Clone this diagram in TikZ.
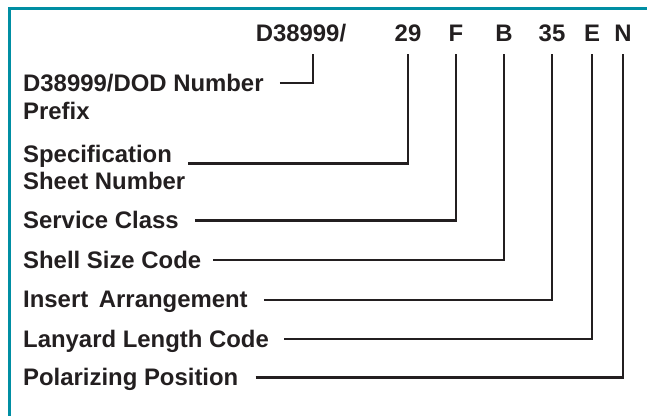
\documentclass[tikz,border=0pt]{standalone}
\usepackage{fontspec}
\setmainfont{Liberation Sans}
\usetikzlibrary{positioning}
\definecolor{frameteal}{RGB}{0,142,163}
\definecolor{inkgray}{RGB}{35,31,32}

\begin{document}
\begin{tikzpicture}[x=1pt, y=-1pt,
    every node/.style={font=\fontsize{23.9}{27.5}\selectfont\bfseries, text=inkgray, inner sep=0pt},
    code/.style={anchor=base, outer ysep=13pt},
    lbl/.style={text height=16.5pt, text depth=0pt},
    lbltwo/.style={align=left},
    lead/.style={draw=inkgray, line width=2.3pt}]
    \useasboundingbox (0,0) rectangle (647,416);

    % Frame: top and left edges only
    \draw[frameteal, line width=3pt] (647,8) -- (9.5,8) -- (9.5,416);

    % Part number, one field per node
    \node[code] (cdod) at (301,41) {D38999/};
    \node[code] (c29) at (408,41) {29};
    \node[code] (cF) at (456,41) {F};
    \node[code] (cB) at (504,41) {B};
    \node[code] (c35) at (552,41) {35};
    \node[code] (cE) at (592,41) {E};
    \node[code] (cN) at (623,41) {N};

    % Field names
    \node[lbltwo, anchor=north west] (ldod) at (23,74) {D38999/DOD Number\\Prefix};
    \node[lbltwo, below=25.5pt of ldod.south west, anchor=north west] (lspec) {Specification\\Sheet Number};
    \node[lbl, below=21.5pt of lspec.south west, anchor=north west] (lserv) {Service Class};
    \node[lbl, below=23pt of lserv.south west, anchor=north west] (lshell) {Shell Size Code};
    \node[lbl, below=22.5pt of lshell.south west, anchor=north west] (linsert) {Insert\hspace{4pt} Arrangement};
    \node[lbl, below=22.5pt of linsert.south west, anchor=north west] (llanyard) {Lanyard Length Code};
    \node[lbl, below=21.5pt of llanyard.south west, anchor=north west] (lpolar) {Polarizing Position};

    % Leader lines from each name up to its field
    \draw[lead] ([shift={(16pt,-9pt)}]ldod.north east) -| ([xshift=12pt]cdod.south);
    \draw[lead] ([shift={(3pt,-18.5pt)}]lspec.north east) -| (c29.south);
    \draw[lead] ([xshift=16pt]lserv.east) -| (cF.south);
    \draw[lead] ([xshift=12pt]lshell.east) -| (cB.south);
    \draw[lead] ([xshift=16pt]linsert.east) -| (c35.south);
    \draw[lead] ([xshift=15pt]llanyard.east) -| (cE.south);
    \draw[lead] ([xshift=17pt]lpolar.east) -| (cN.south);
\end{tikzpicture}
\end{document}
